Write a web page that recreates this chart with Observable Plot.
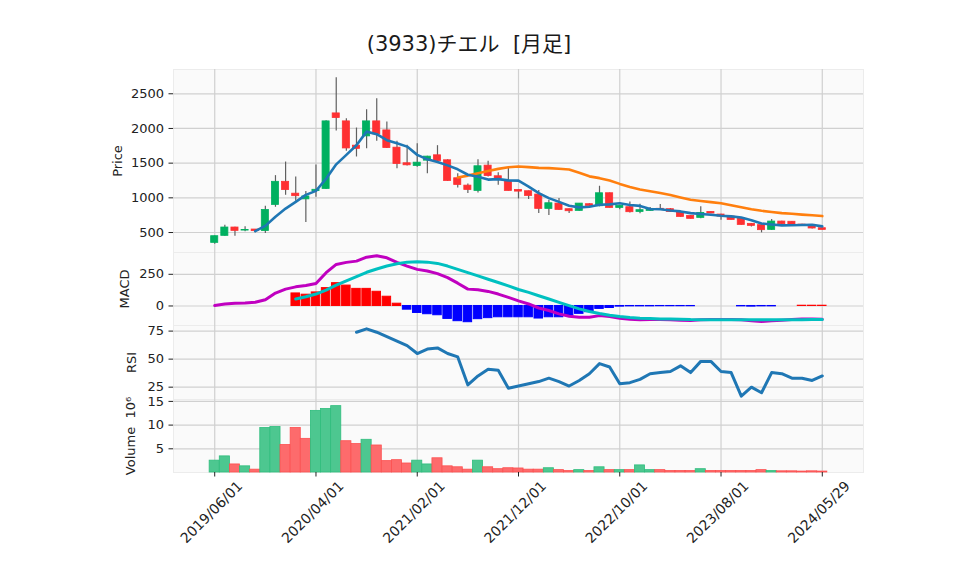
<!DOCTYPE html>
<html>
<head>
<meta charset="utf-8">
<script src="https://cdn.jsdelivr.net/npm/d3@7"></script>
<script src="https://cdn.jsdelivr.net/npm/@observablehq/plot@0.6"></script>
<style>
  body { margin: 0; background: #ffffff; }
  #root { position: relative; width: 958px; height: 575px; overflow: hidden;
          font-family: "DejaVu Sans", "Noto Sans CJK JP", sans-serif; }
  #title { position: absolute; left: 0; width: 938px; top: 31px; text-align: center;
           font-size: 21px; line-height: 26px; color: #1a1a1a; white-space: pre; }
  .panel { position: absolute; left: 0; }
</style>
</head>
<body>
<div id="root">
  <div id="title">(3933)チエル  [月足]</div>
</div>
<script>
// ---- Monthly OHLC (2019/06 .. 2024/05) ----
const openP  = [351,452,572,528,543,521,898,1231,1060,978,1097,1128,2217,2102,1752,1886,2102,1972,1723,1498,
                1459,1536,1613,1541,1282,1176,1100,1464,1311,1243,1114,1095,1047,841,917,836,812,908,879,1066,
                855,865,797,812,842,836,788,740,711,797,759,730,706,625,606,538,658,655,614,610,562];
const highP  = [450,606,575,582,545,879,1320,1516,1302,1093,1474,2110,2730,2140,2006,2270,2428,2092,1814,1757,
                1780,1600,1752,1550,1349,1200,1550,1526,1363,1435,1120,1100,1104,965,989,840,920,915,1167,1070,
                890,941,908,860,903,845,792,745,870,802,765,735,710,630,610,687,662,660,618,614,565];
const lowP   = [332,448,447,512,495,485,864,1037,950,645,1007,1120,1963,1670,1589,1709,1814,1710,1421,1460,
                1440,1349,1520,1234,1143,1061,1071,1300,1181,1100,984,975,774,745,820,774,805,880,870,855,
                830,783,770,805,830,790,720,695,700,770,677,680,605,580,495,530,610,612,608,550,535];
const closeP = [447,572,524,535,520,826,1231,1112,1024,1020,1116,2102,2150,1712,1706,2102,1915,1718,1488,1469,
                1507,1594,1527,1243,1186,1114,1455,1315,1277,1100,1090,1028,841,922,826,807,917,884,1066,855,
                884,793,822,841,836,797,725,697,783,774,730,682,610,596,534,658,620,615,612,558,538];
// Volume, millions of shares
const volume = [2.5,3.4,1.7,1.3,0.6,9.4,9.6,5.8,9.4,7.1,13.0,13.4,14.0,6.6,6.0,6.9,5.7,2.4,2.6,1.9,
                2.5,1.7,3.0,1.3,1.1,0.6,2.5,1.1,0.7,0.9,0.85,0.6,0.6,0.9,0.5,0.3,0.5,0.3,1.1,0.5,
                0.5,0.5,1.5,0.5,0.5,0.3,0.3,0.3,0.7,0.3,0.3,0.3,0.3,0.3,0.5,0.3,0.25,0.25,0.2,0.25,0.2];
// MACD line (from month 0), signal and histogram (from month 8), RSI (from month 14)
const macdLine = [3,16,21,23,29,49,102,133,151,161,177,263,328,344,354,385,396,380,344,315,
                  289,276,255,224,180,133,128,115,94,68,40,16,-16,-36,-62,-81,-89,-89,-76,-83,
                  -96,-104,-109,-107,-107,-109,-112,-115,-109,-107,-107,-107,-109,-117,-122,-117,-112,-107,-102,-102,-104];
const signalStart = 8;
const signalLine = [55,73,94,125,164,198,232,266,292,315,333,346,349,346,336,315,289,263,237,211,
                    185,159,130,107,81,55,29,3,-23,-44,-60,-73,-83,-91,-96,-99,-102,-102,-104,-107,
                    -108,-108,-108,-108,-108,-109,-109,-109,-109,-108,-108,-107,-107];
const histValues = [99,89,107,141,180,161,135,135,112,73,18,-29,-55,-65,-73,-102,-120,-128,-104,-96,
                    -89,-89,-89,-89,-99,-89,-89,-75,-62,-49,-23,-16,-5,-3,-3,-3,-2,-2,-2,-2,
                    0,0,0,0,-3,-5,-3,-3,0,0,2,2,2];
const rsiStart = 14;
const rsiValues = [74,77,74,70,66,62,55,59,60,55,52,27,35,41,40,24,26,28,30,33,
                   30,26,31,37,46,43,28,29,32,37,38,39,44,38,48,48,39,38,17,25,
                   20,38,37,33,33,31,35];
// Axis ticks
const tickIndex  = [0,10,20,30,40,50,60];
const tickLabels = ["2019/06/01","2020/04/01","2021/02/01","2021/12/01","2022/10/01","2023/08/01","2024/05/29"];
const priceTicks = [500,1000,1500,2000,2500];
const macdTicks  = [0,250];
const rsiTicks   = [25,50,75];
const volTicks   = [5,10,15];

// ---- tables built from the arrays ----
const candles = closeP.map((c, i) => ({i, open: openP[i], high: highP[i], low: lowP[i], close: c}));
const vols = volume.map((v, i) => ({i, v, up: i === 0 ? closeP[i] >= openP[i] : closeP[i] >= closeP[i - 1]}));
const macdData = macdLine.map((v, i) => ({i, v}));
const sigData = signalLine.map((v, k) => ({i: k + signalStart, v}));
const histData = histValues.map((v, k) => ({i: k + signalStart, v}));
const rsiData = rsiValues.map((v, k) => ({i: k + rsiStart, v}));

const UP = "#00b060", DOWN = "#fe3032";
const GRID = {stroke: "#d0d0d0", strokeOpacity: 1, strokeWidth: 1.2};
const FONT = "'DejaVu Sans', 'Noto Sans CJK JP', sans-serif";

function base(height, extra) {
  return Object.assign({
    width: 958, height, marginLeft: 173, marginRight: 95, marginTop: 0, marginBottom: 0,
    x: {domain: [-4.07, 64.07], axis: null},
    color: {type: "identity"},
    style: {fontFamily: FONT, fontSize: "13px", color: "#222", background: "transparent", overflow: "visible"}
  }, extra);
}
function yaxis(ticks) {
  return Plot.axisY(ticks, {tickSize: 4.5, tickPadding: 5, label: null, fontSize: 13, tickFormat: d => String(d)});
}
function ylabel(text, dx) {
  return Plot.text([text], {frameAnchor: "left", textAnchor: "middle", dx, rotate: -90, fontSize: 13, fill: "#222"});
}
const frameFill = () => Plot.frame({fill: "#fafafa", stroke: "#ececec"});

const root = document.getElementById("root");
function place(svg, top) {
  svg.classList.add("panel");
  svg.style.top = top + "px";
  root.appendChild(svg);
}

// Price panel
place(Plot.plot(base(183, {
  y: {domain: [212, 2850]},
  marks: [
    frameFill(),
    Plot.gridY(priceTicks, GRID),
    Plot.gridX(tickIndex, GRID),
    yaxis(priceTicks),
    ylabel("Price", -56),
    Plot.ruleX(candles, {x: "i", y1: "low", y2: "high", stroke: "#606060", strokeWidth: 1.2}),
    Plot.rect(candles, {x1: d => d.i - 0.35, x2: d => d.i + 0.35, y1: "open", y2: "close",
      fill: d => d.close >= d.open ? UP : DOWN, stroke: d => d.close >= d.open ? UP : DOWN, strokeWidth: 0.8}),
    Plot.lineY(candles, Plot.windowY({k: 25, anchor: "end", strict: true},
      {x: "i", y: "close", stroke: "#ff7f0e", strokeWidth: 2.6})),
    Plot.lineY(candles, Plot.windowY({k: 5, anchor: "end", strict: true},
      {x: "i", y: "close", stroke: "#1f77b4", strokeWidth: 2.6}))
  ]
})), 69);

// MACD panel
const histColor = d => d.v > 0 ? "#ff0000" : d.v < 0 ? "#0000ff" : "none";
place(Plot.plot(base(73, {
  y: {domain: [-154, 422]},
  marks: [
    frameFill(),
    Plot.gridY(macdTicks, GRID),
    Plot.gridX(tickIndex, GRID),
    yaxis(macdTicks),
    ylabel("MACD", -49),
    Plot.rect(histData, {x1: d => d.i - 0.42, x2: d => d.i + 0.42, y1: d => 0, y2: "v",
      fill: histColor, stroke: histColor, strokeWidth: 1}),
    Plot.line(macdData, {x: "i", y: "v", stroke: "#c000c0", strokeWidth: 3}),
    Plot.line(sigData, {x: "i", y: "v", stroke: "#00c0c0", strokeWidth: 3})
  ]
})), 252);

// RSI panel
place(Plot.plot(base(74, {
  y: {domain: [14, 80]},
  marks: [
    frameFill(),
    Plot.gridY(rsiTicks, GRID),
    Plot.gridX(tickIndex, GRID),
    yaxis(rsiTicks),
    ylabel("RSI", -42),
    Plot.line(rsiData, {x: "i", y: "v", stroke: "#1f77b4", strokeWidth: 3})
  ]
})), 325);

// Volume panel with x axis
place(Plot.plot(base(176, {
  marginBottom: 103,
  x: {domain: [-4.07, 64.07]},
  y: {domain: [0, 15.4]},
  marks: [
    frameFill(),
    Plot.gridY(volTicks, GRID),
    Plot.gridX(tickIndex, GRID),
    yaxis(volTicks),
    ylabel("Volume  10⁶", -43),
    Plot.rect(vols, {x1: d => d.i - 0.5, x2: d => d.i + 0.5, y1: d => 0, y2: "v",
      fill: d => d.up ? "#4dc790" : "#fd6b6c", stroke: d => d.up ? "#2fbd7d" : "#fd5050", strokeWidth: 0.8}),
    Plot.axisX(tickIndex, {tickSize: 4.5, tickFormat: () => "", label: null}),
    Plot.text(tickIndex, {x: d => d, text: (d, k) => tickLabels[k], frameAnchor: "bottom", dy: 43,
      rotate: -45, fontSize: 14, fill: "#222"})
  ]
})), 399);
</script>
</body>
</html>
